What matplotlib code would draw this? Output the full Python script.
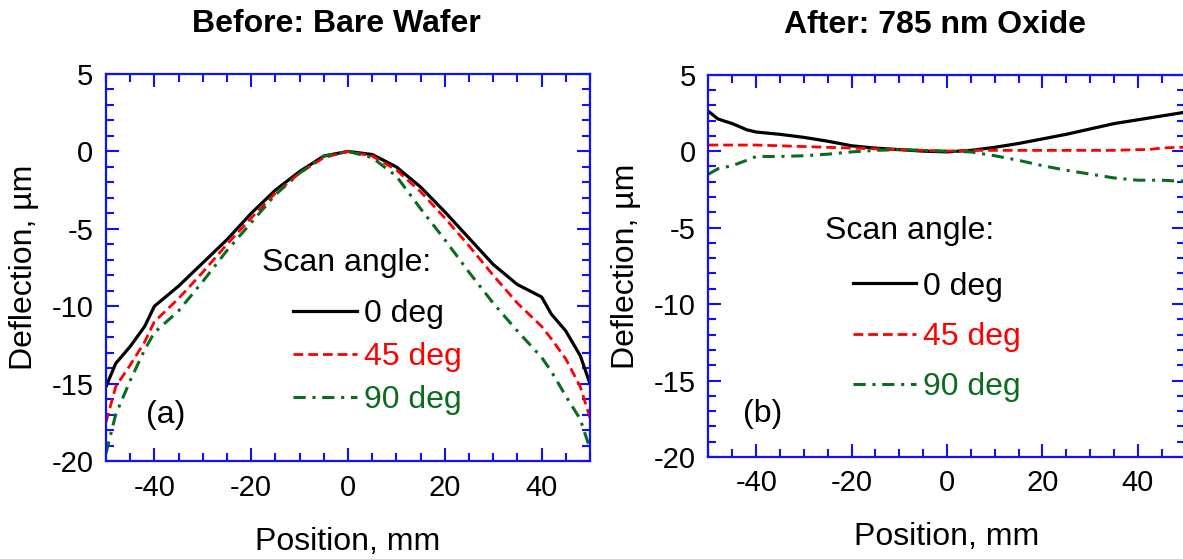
import matplotlib
matplotlib.use("Agg")
import matplotlib.pyplot as plt
from matplotlib.ticker import MultipleLocator

plt.rcParams['font.family'] = ['Liberation Sans', 'DejaVu Sans']
plt.rcParams['axes.unicode_minus'] = False

# position along the wafer, mm
pos = [-50, -48, -45, -42, -40, -35, -30, -25, -20, -15, -10, -5, 0,
       5, 10, 15, 20, 25, 30, 35, 40, 42, 45, 48, 50]

# (a) bare wafer, deflection in um
bare_0 = [-15.2, -13.7, -12.6, -11.3, -10.0, -8.7, -7.2, -5.7, -4.0, -2.5, -1.3, -0.3, 0.0,
          -0.2, -1.0, -2.3, -3.9, -5.6, -7.3, -8.6, -9.4, -10.5, -11.6, -13.2, -15.0]
bare_45 = [-17.5, -15.2, -13.8, -12.3, -11.0, -9.5, -7.8, -6.0, -4.3, -2.7, -1.4, -0.4, 0.0,
           -0.3, -1.2, -2.6, -4.3, -6.1, -8.0, -9.8, -11.3, -12.1, -13.4, -15.2, -17.2]
bare_90 = [-19.5, -17.0, -14.8, -12.8, -11.7, -10.3, -8.4, -6.4, -4.6, -2.8, -1.4, -0.3, 0.0,
           -0.4, -1.6, -3.7, -5.7, -7.8, -9.8, -11.6, -13.3, -14.2, -15.8, -17.3, -19.2]

# (b) after 785 nm oxide
ox_0 = [2.6, 2.1, 1.8, 1.4, 1.25, 1.1, 0.9, 0.65, 0.35, 0.2, 0.1, 0.0, -0.05,
        0.05, 0.25, 0.5, 0.8, 1.1, 1.45, 1.8, 2.05, 2.15, 2.3, 2.45, 2.55]
ox_45 = [0.4, 0.4, 0.4, 0.4, 0.4, 0.35, 0.3, 0.25, 0.2, 0.15, 0.1, 0.05, 0.0,
         0.05, 0.05, 0.05, 0.05, 0.05, 0.05, 0.05, 0.1, 0.1, 0.2, 0.25, 0.25]
ox_90 = [-1.5, -1.15, -0.95, -0.6, -0.35, -0.35, -0.3, -0.2, -0.05, 0.05, 0.1, 0.05, 0.0,
         -0.05, -0.3, -0.6, -0.95, -1.25, -1.5, -1.75, -1.9, -1.9, -1.9, -1.95, -1.95]

labels = ['0 deg', '45 deg', '90 deg']
colors = ['black', '#ff0000', '#0b6b1f']
titles = ['Before: Bare Wafer', 'After: 785 nm Oxide']
tags = ['(a)', '(b)']

fig = plt.figure(figsize=(11.83, 5.59), dpi=100)
ax1 = fig.add_axes([0.0896, 0.1753, 0.4091, 0.6923])
ax2 = fig.add_axes([0.5989, 0.1825, 0.4032, 0.6839])


def draw(ax, ys, title, tag, leg_xy, title_xy, labsp, tag_xy):
    ax.plot(pos, ys[0], color=colors[0], lw=2.3, label=labels[0])
    ax.plot(pos, ys[1], color=colors[1], lw=2.0, dashes=(3.5, 1.8), label=labels[1])
    ax.plot(pos, ys[2], color=colors[2], lw=2.2, dashes=(4, 2.2, 1, 2.2), label=labels[2])
    ax.set_xlim(-50, 50)
    ax.set_ylim(-20, 5)
    ax.xaxis.set_major_locator(MultipleLocator(20))
    ax.xaxis.set_minor_locator(MultipleLocator(5))
    ax.yaxis.set_major_locator(MultipleLocator(5))
    ax.yaxis.set_minor_locator(MultipleLocator(1))
    ax.tick_params(which='both', direction='in', top=True, right=True,
                   color='#1010ff', width=1.5, labelsize=21)
    ax.tick_params(which='major', length=9.5, pad=9)
    ax.tick_params(which='minor', length=6)
    for s in ax.spines.values():
        s.set_color('#1010ff')
        s.set_linewidth(1.6)
    ax.set_xlabel('Position, mm', fontsize=23, labelpad=18)
    ax.set_ylabel('Deflection, µm', fontsize=23, labelpad=9)
    ax.set_title(title, fontsize=23, fontweight='bold', x=0.475, pad=30)
    ax.text(title_xy[0], title_xy[1], 'Scan angle:', fontsize=23,
            transform=ax.transAxes, ha='left', va='baseline')
    ax.legend(loc='upper left', bbox_to_anchor=leg_xy, frameon=False,
              fontsize=23, handlelength=2.0, handletextpad=0.22,
              labelspacing=labsp, borderpad=0, borderaxespad=0,
              labelcolor='linecolor')
    ax.text(tag_xy[0], tag_xy[1], tag, fontsize=23, transform=ax.transAxes,
            ha='left', va='baseline')


draw(ax1, [bare_0, bare_45, bare_90], titles[0], tags[0],
     (0.386, 0.418), (0.322, 0.492), 0.41, (0.083, 0.098))
draw(ax2, [ox_0, ox_45, ox_90], titles[1], tags[1],
     (0.302, 0.485), (0.244, 0.570), 0.64, (0.072, 0.092))

fig.savefig('out.png', dpi=100)
